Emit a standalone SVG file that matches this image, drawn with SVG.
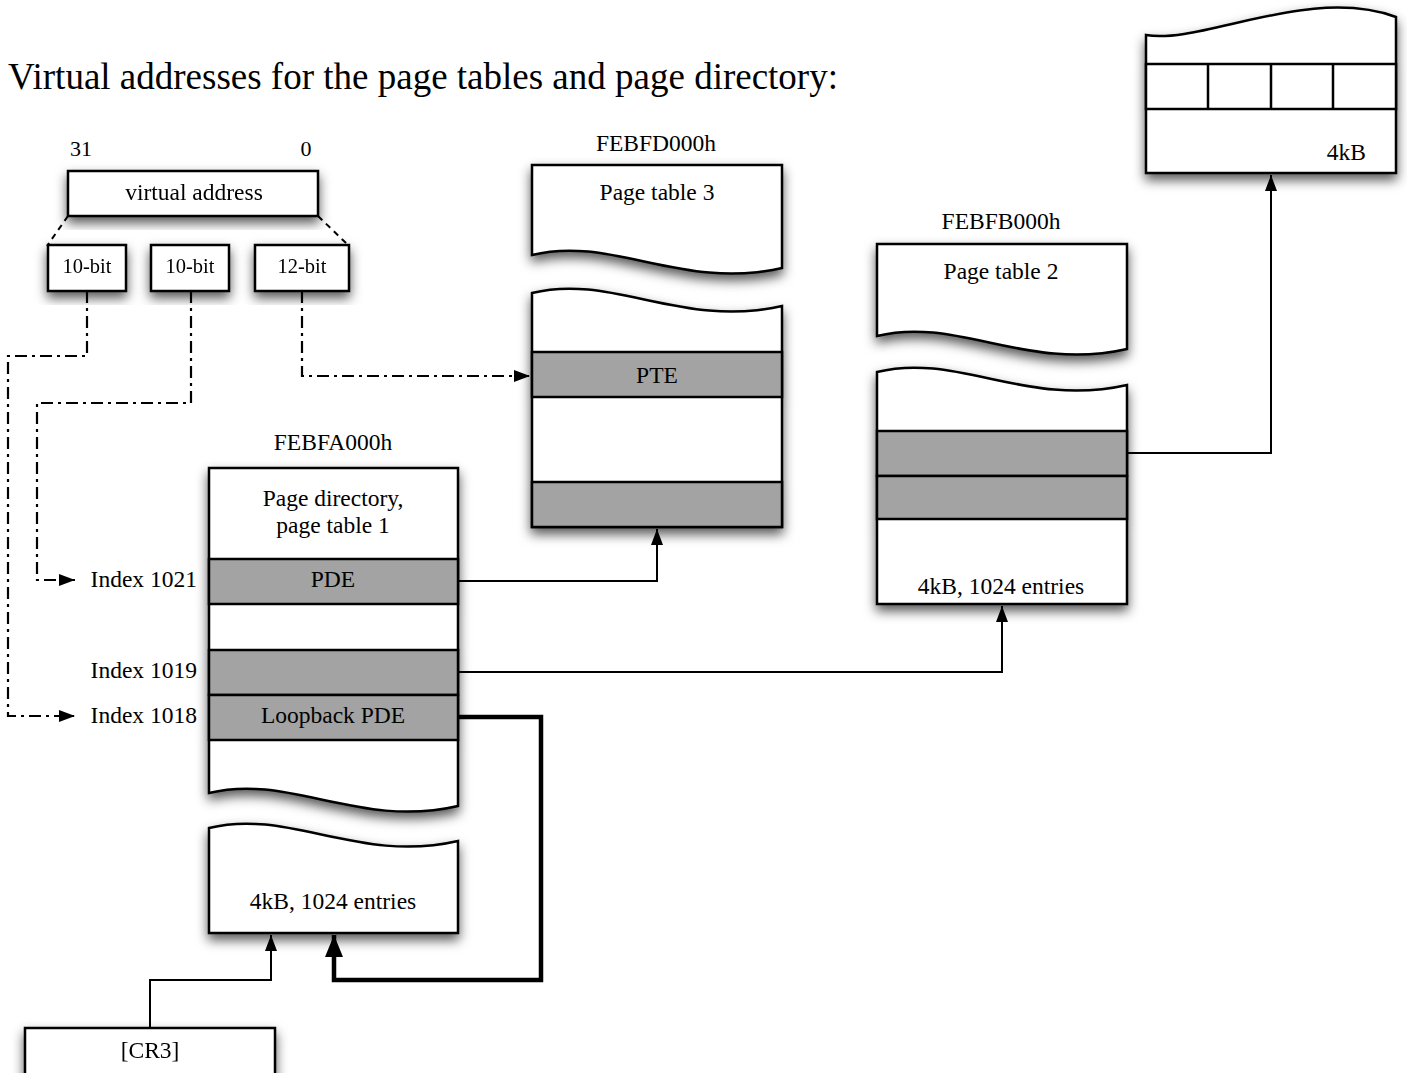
<svg xmlns="http://www.w3.org/2000/svg" width="1407" height="1073" viewBox="0 0 1407 1073">
<defs>
<style>
text{font-family:"Liberation Serif","Times New Roman",serif;fill:#000}
.t{font-size:23.5px;text-anchor:middle}
.s{font-size:20.5px;text-anchor:middle}
.box{fill:#fff;stroke:#000;stroke-width:2.5}
.row{fill:#a3a3a3;stroke:#000;stroke-width:2.5}
.ln{fill:none;stroke:#000;stroke-width:2.5}
.con{fill:none;stroke:#000;stroke-width:2}
.thick{fill:none;stroke:#000;stroke-width:4.5}
.dash{fill:none;stroke:#000;stroke-width:2.2;stroke-dasharray:12 5 3 5}
.dot{fill:none;stroke:#000;stroke-width:2;stroke-dasharray:6 5}
.sh{filter:url(#shadow)}
</style>
<filter id="shadow" x="-20%" y="-20%" width="140%" height="150%">
<feDropShadow dx="0" dy="6" stdDeviation="6" flood-color="#000" flood-opacity="0.65"/>
</filter>
<marker id="ah" viewBox="0 0 16 12" refX="16" refY="6" markerWidth="16" markerHeight="12" markerUnits="userSpaceOnUse" orient="auto">
<path d="M0,0 L16,6 L0,12 Z" fill="#000"/>
</marker>
<marker id="ahb" viewBox="0 0 22 18" refX="22" refY="9" markerWidth="22" markerHeight="18" markerUnits="userSpaceOnUse" orient="auto">
<path d="M0,0 L22,9 L0,18 Z" fill="#000"/>
</marker>
</defs>
<rect width="1407" height="1073" fill="#fff"/>

<text x="8" y="89" style="font-size:37px">Virtual addresses for the page tables and page directory:</text>

<g id="connectors">
<path class="dot" d="M68,216 L47,246"/>
<path class="dot" d="M318,216 L347,244"/>
<path class="dash" d="M302,291 V376 H530" marker-end="url(#ah)"/>
<path class="dash" d="M191,291 V403 H37 V580 H75" marker-end="url(#ah)"/>
<path class="dash" d="M87,291 V356 H8 V716 H75" marker-end="url(#ah)"/>
<path class="con" d="M458,581 H657 V529" marker-end="url(#ah)"/>
<path class="con" d="M458,672 H1002 V606" marker-end="url(#ah)"/>
<path class="con" d="M1127,453 H1271 V175" marker-end="url(#ah)"/>
<path class="con" d="M150,1028 V980 H271 V935" marker-end="url(#ah)"/>
<path class="thick" d="M458,717 H541 V980 H334 V935" marker-end="url(#ahb)"/>
</g>

<g id="bit-labels">
<text x="81" y="156" style="font-size:22px;text-anchor:middle">31</text>
<text x="306" y="156" style="font-size:22px;text-anchor:middle">0</text>
</g>

<g id="virtual-address" class="sh">
<rect class="box" x="68" y="171" width="250" height="45"/>
<text class="t" x="194" y="200">virtual address</text>
</g>

<g id="bits-10a" class="sh">
<rect class="box" x="48" y="245" width="78" height="46"/>
<text class="s" x="87" y="273">10-bit</text>
</g>
<g id="bits-10b" class="sh">
<rect class="box" x="151" y="245" width="78" height="46"/>
<text class="s" x="190" y="273">10-bit</text>
</g>
<g id="bits-12" class="sh">
<rect class="box" x="255" y="245" width="94" height="46"/>
<text class="s" x="302" y="273">12-bit</text>
</g>

<g id="page-table-3">
<text class="t" x="656" y="151">FEBFD000h</text>
<g class="sh">
<path class="box" d="M532,165 H782 V268 C682,291 612,235 532,255 Z"/>
<path class="box" d="M532,293 C612,273 682,329 782,306 V527 H532 Z"/>
<rect class="row" x="532" y="352" width="250" height="45"/>
<rect class="row" x="532" y="482" width="250" height="45"/>
</g>
<text class="t" x="657" y="200">Page table 3</text>
<text class="t" x="657" y="383">PTE</text>
</g>

<g id="page-table-2">
<text class="t" x="1001" y="229">FEBFB000h</text>
<g class="sh">
<path class="box" d="M877,244 H1127 V349 C1027,372 957,316 877,336 Z"/>
<path class="box" d="M877,372 C957,352 1027,408 1127,385 V604 H877 Z"/>
<rect class="row" x="877" y="431" width="250" height="45"/>
<rect class="row" x="877" y="476" width="250" height="43"/>
</g>
<text class="t" x="1001" y="279">Page table 2</text>
<text class="t" x="1001" y="594">4kB, 1024 entries</text>
</g>

<g id="page-4kb">
<g class="sh">
<path class="box" d="M1146,35 C1200,45 1310,-15 1396,17 V173 H1146 Z"/>
<rect class="box" x="1146" y="64" width="250" height="45"/>
<path class="ln" d="M1208,64 V109 M1271,64 V109 M1333,64 V109"/>
</g>
<text class="t" x="1366" y="160" style="text-anchor:end">4kB</text>
</g>

<g id="page-directory">
<text class="t" x="333" y="450">FEBFA000h</text>
<g class="sh">
<path class="box" d="M209,468 H458 V806 C359,829 289,773 209,793 Z"/>
<path class="box" d="M209,828 C289,808 359,864 458,841 V933 H209 Z"/>
<rect class="row" x="209" y="559" width="249" height="45"/>
<rect class="row" x="209" y="650" width="249" height="45"/>
<rect class="row" x="209" y="695" width="249" height="45"/>
</g>
<text class="t" x="333" y="506">Page directory,</text>
<text class="t" x="333" y="533">page table 1</text>
<text class="t" x="333" y="587">PDE</text>
<text class="t" x="333" y="723">Loopback PDE</text>
<text class="t" x="333" y="909">4kB, 1024 entries</text>
</g>

<g id="index-labels">
<text class="t" x="197" y="587" style="text-anchor:end">Index 1021</text>
<text class="t" x="197" y="678" style="text-anchor:end">Index 1019</text>
<text class="t" x="197" y="723" style="text-anchor:end">Index 1018</text>
</g>

<g id="cr3" class="sh">
<rect class="box" x="25" y="1028" width="250" height="60"/>
<text class="t" x="150" y="1058">[CR3]</text>
</g>
</svg>
